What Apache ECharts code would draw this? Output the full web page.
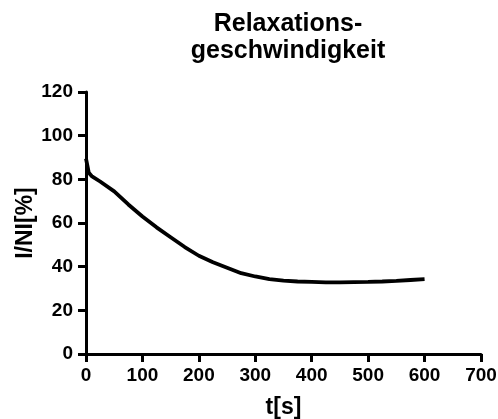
<!DOCTYPE html>
<html><head><meta charset="utf-8">
<script src="https://cdn.jsdelivr.net/npm/echarts@6/dist/echarts.min.js"></script>
<style>html,body{margin:0;padding:0;background:#fff}#c{width:498px;height:419px}</style>
</head><body><div id="c"></div>
<script>
const titleText = "Relaxations-\ngeschwindigkeit";
const xName = "t[s]";
const yName = "I/NI[%]";
const times = [0, 5, 10, 25, 50, 75, 100, 125, 150, 175, 200, 225, 250, 275, 300, 325, 350, 375, 400, 425, 450, 475, 500, 525, 550, 575, 600];
const values = [89.5, 83, 81.5, 79, 74.5, 68.5, 63, 58, 53.5, 49, 45, 42, 39.5, 37, 35.5, 34.3, 33.6, 33.2, 33, 32.8, 32.8, 32.9, 33, 33.2, 33.5, 33.9, 34.3];

const font = "'Liberation Sans', Arial, sans-serif";
const chart = echarts.init(document.getElementById('c'), null, {renderer: 'canvas'});
const axisCommon = {
  axisLine: {show: true, onZero: false, lineStyle: {color: '#000', width: 3}},
  axisTick: {show: true, length: 8, lineStyle: {color: '#000', width: 3}},
  splitLine: {show: false},
  axisLabel: {color: '#000', fontFamily: font, fontWeight: 'bold', fontSize: 19},
  nameTextStyle: {color: '#000', fontFamily: font, fontWeight: 'bold', fontSize: 23},
  nameLocation: 'middle',
  nameMoveOverlap: false
};
chart.setOption({
  animation: false,
  backgroundColor: '#fff',
  title: {
    text: titleText, left: 283, top: 6, textAlign: 'center',
    textStyle: {color: '#000', fontFamily: font, fontWeight: 'bold', fontSize: 25, lineHeight: 27}
  },
  grid: {left: 86, right: 17, top: 92, bottom: 65, containLabel: false, outerBoundsMode: 'none'},
  xAxis: Object.assign({}, axisCommon, {
    type: 'value', min: 0, max: 700, interval: 100, name: xName, nameGap: 42,
    axisLabel: Object.assign({}, axisCommon.axisLabel, {margin: 12})
  }),
  yAxis: Object.assign({}, axisCommon, {
    type: 'value', min: 0, max: 120, interval: 20, name: yName, nameGap: 49,
    axisLabel: Object.assign({}, axisCommon.axisLabel, {margin: 13})
  }),
  series: [{
    type: 'line', data: times.map((t, i) => [t, values[i]]),
    showSymbol: false, symbol: 'none', smooth: false,
    lineStyle: {color: '#000', width: 3.8}
  }]
});
</script></body></html>
